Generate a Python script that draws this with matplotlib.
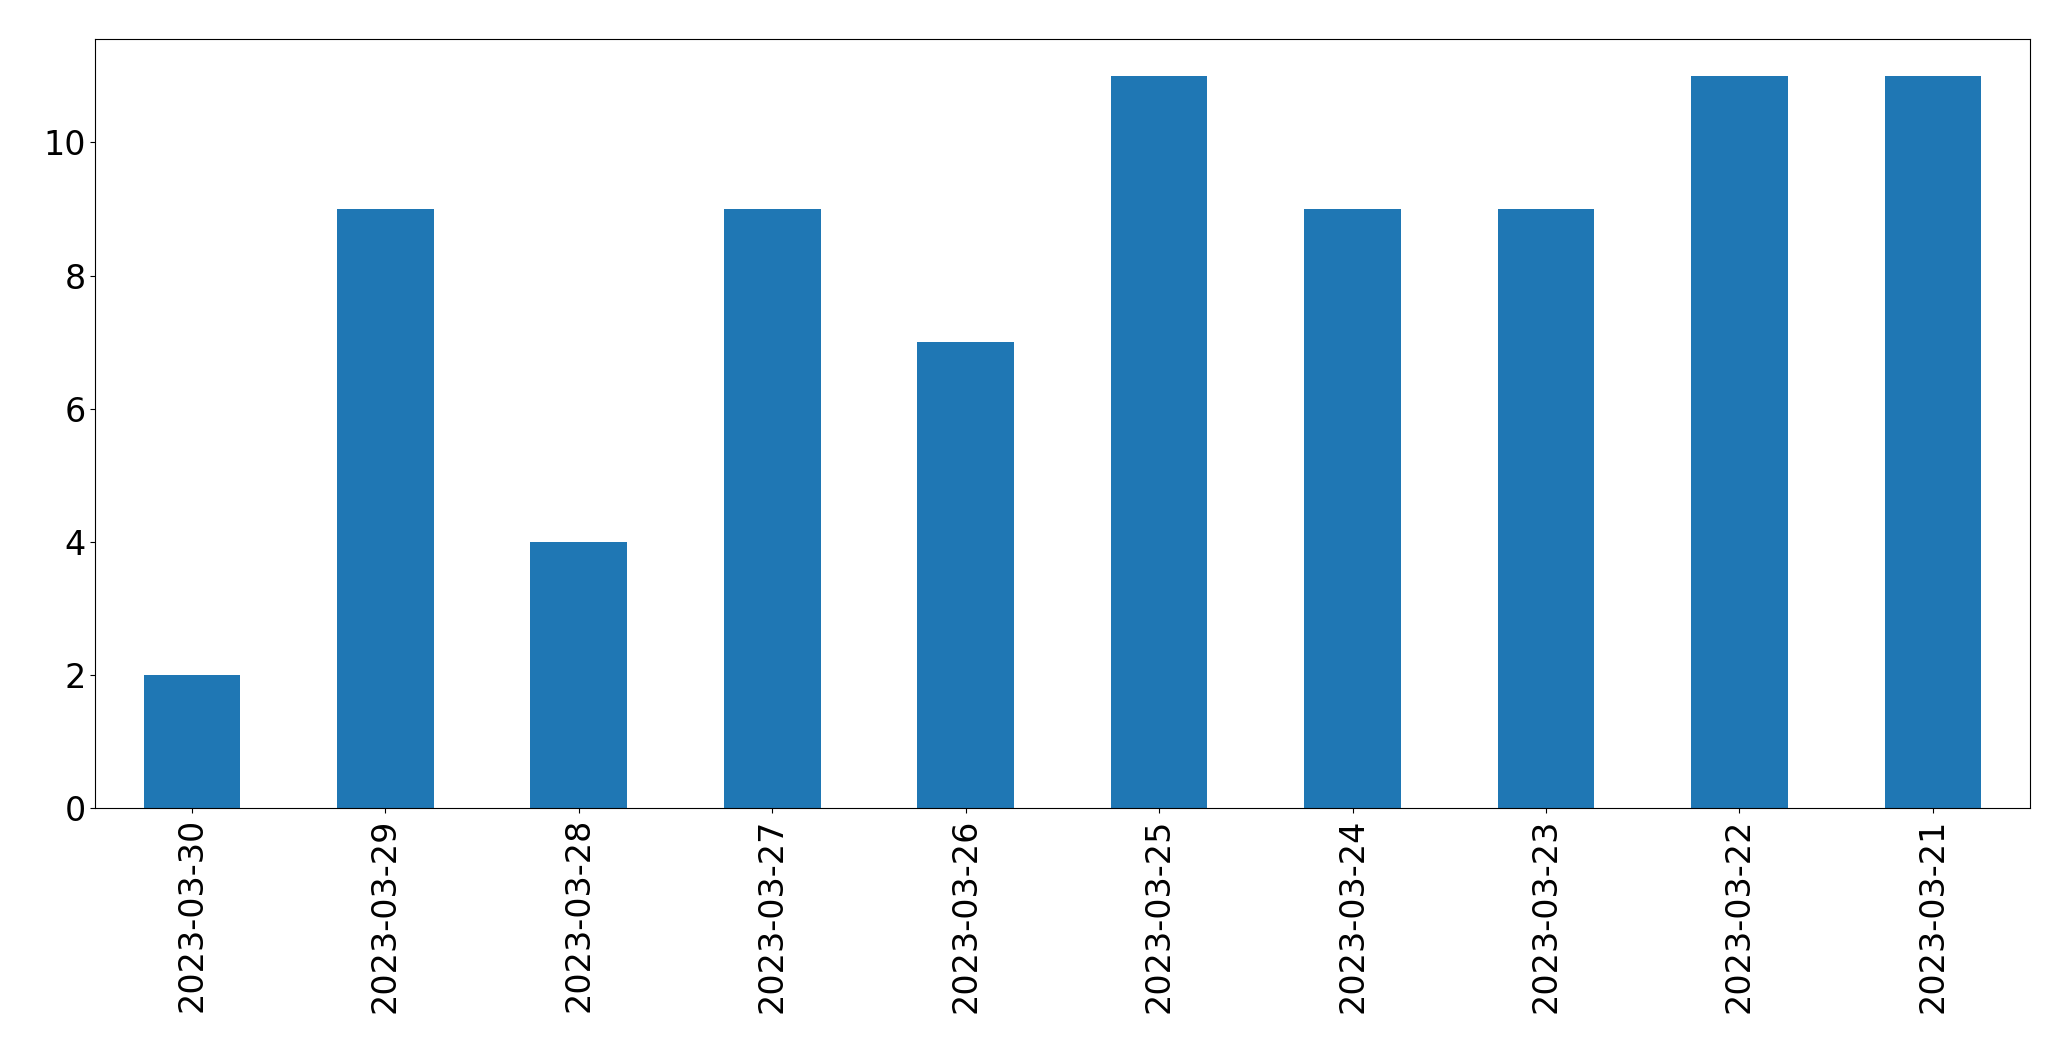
import matplotlib
matplotlib.use("Agg")
import matplotlib.pyplot as plt

dates = ["2023-03-30","2023-03-29","2023-03-28","2023-03-27","2023-03-26",
         "2023-03-25","2023-03-24","2023-03-23","2023-03-22","2023-03-21"]
counts = [2, 9, 4, 9, 7, 11, 9, 9, 11, 11]

fig = plt.figure(figsize=(20.71, 10.61), dpi=100)
ax = fig.add_axes([0.046, 0.238, 0.934, 0.725])
x = range(len(dates))
ax.bar(x, counts, width=0.5, color="#1f77b4")
ax.set_xlim(-0.5, len(dates) - 0.5)
ax.set_ylim(0, 11.55)
ax.set_xticks(list(x))
ax.set_xticklabels(dates, rotation=90, fontsize=24)
ax.tick_params(axis="y", labelsize=24)
fig.savefig("out.png", dpi=100)
